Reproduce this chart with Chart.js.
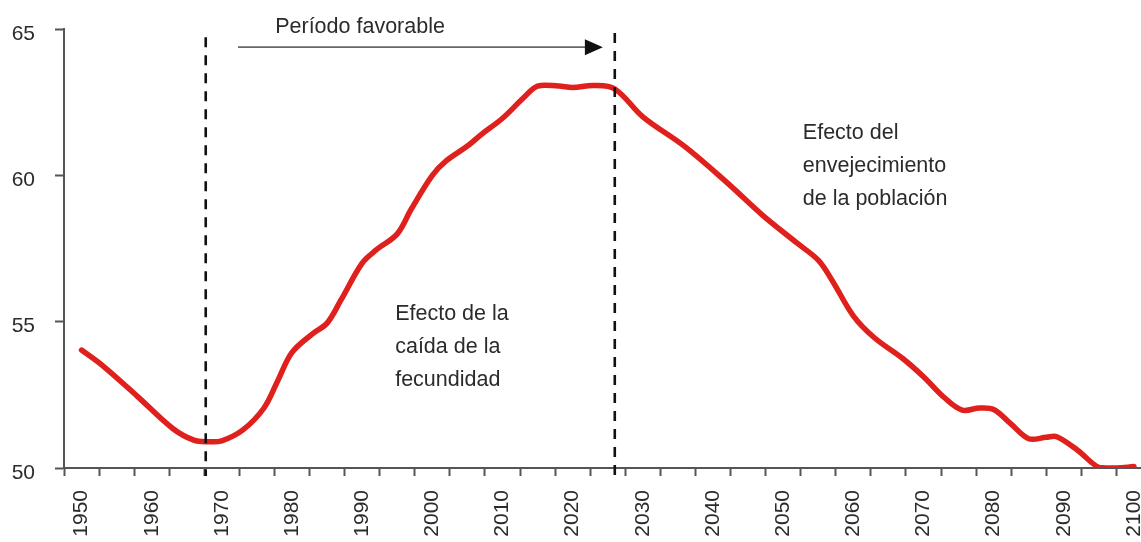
<!DOCTYPE html>
<html><head><meta charset="utf-8">
<script src="https://cdn.jsdelivr.net/npm/chart.js@4.4.0/dist/chart.umd.min.js"></script>
<style>html,body{margin:0;padding:0;background:#fff;overflow:hidden}#wrap{width:1141px;height:542px;position:relative}</style>
</head><body><div id="wrap"><canvas id="c" width="1141" height="542"></canvas></div>
<script>
// Data
const years  = [1950,1953,1958,1963,1966,1968,1970,1973,1976,1978,1980,1983,1985,1987,1990,1992,1995,1997,2000,2002,2005,2007,2010,2013,2015,2018,2020,2023,2026,2030,2036,2042,2047,2052,2055,2057,2060,2063,2067,2070,2073,2075.5,2078,2080,2082.5,2085,2087.5,2089,2092,2095,2097.5,2100];
const values = [54.03,53.5,52.44,51.35,50.95,50.9,50.93,51.3,52.05,53.0,53.95,54.6,54.95,55.75,57.0,57.45,58.0,58.85,60.0,60.5,61.0,61.4,61.95,62.65,63.05,63.05,63.0,63.07,62.95,62.0,60.98,59.75,58.65,57.68,57.1,56.4,55.2,54.45,53.75,53.12,52.4,51.98,52.05,52.0,51.5,51.0,51.05,51.07,50.6,50.02,50.0,50.05];
const yTicks = [50,55,60,65];
const xLabelYears = [1950,1960,1970,1980,1990,2000,2010,2020,2030,2040,2050,2060,2070,2080,2090,2100];
const xTickYears = [1947.5,1952.5,1957.5,1962.5,1967.5,1972.5,1977.5,1982.5,1987.5,1992.5,1997.5,2002.5,2007.5,2012.5,2017.5,2022.5,2027.5,2032.5,2037.5,2042.5,2047.5,2052.5,2057.5,2062.5,2067.5,2072.5,2077.5,2082.5,2087.5,2092.5,2097.5];
const markerYears = [1967.7, 2026];
const markerTops = [64.72, 64.86];
const periodText = "Período favorable";
const periodTextPos = [1977.6, 64.86];
const arrowFrom = [1972.3, 64.38];
const arrowTo = [2024.3, 64.38];
const leftNote = ["Efecto de la", "caída de la", "fecundidad"];
const leftNotePos = [1994.7, 55.06];
const rightNote = ["Efecto del", "envejecimiento", "de la población"];
const rightNotePos = [2052.8, 61.24];

const FONT = "'Liberation Sans', Arial, sans-serif";
const TXT = '#2b2b2b';
const AX = '#555555';

const allXTicks = [...xTickYears, ...xLabelYears].sort((a,b)=>a-b);

const overlay = {
  id: 'overlay',
  afterDatasetsDraw(chart) {
    const {ctx, scales:{x, y}} = chart;
    ctx.save();
    // dashed vertical markers
    ctx.strokeStyle = '#111';
    ctx.lineWidth = 2.6;
    ctx.setLineDash([10, 8]);
    markerYears.forEach((yr, i) => {
      const px = x.getPixelForValue(yr);
      ctx.beginPath();
      ctx.moveTo(px, y.getPixelForValue(markerTops[i]));
      ctx.lineTo(px, y.bottom + 8);
      ctx.stroke();
    });
    ctx.setLineDash([]);
    // arrow
    const ax1 = x.getPixelForValue(arrowFrom[0]), ay = y.getPixelForValue(arrowFrom[1]);
    const ax2 = x.getPixelForValue(arrowTo[0]);
    ctx.strokeStyle = '#666';
    ctx.lineWidth = 1.6;
    ctx.beginPath();
    ctx.moveTo(ax1, ay);
    ctx.lineTo(ax2 - 14, ay);
    ctx.stroke();
    ctx.fillStyle = '#111';
    ctx.beginPath();
    ctx.moveTo(ax2, ay);
    ctx.lineTo(ax2 - 18, ay - 8);
    ctx.lineTo(ax2 - 18, ay + 8);
    ctx.closePath();
    ctx.fill();
    // texts
    ctx.fillStyle = TXT;
    ctx.font = `21.5px ${FONT}`;
    ctx.textAlign = 'left';
    ctx.textBaseline = 'alphabetic';
    ctx.fillText(periodText, x.getPixelForValue(periodTextPos[0]), y.getPixelForValue(periodTextPos[1]));
    const drawNote = (lines, pos) => {
      const px = x.getPixelForValue(pos[0]);
      const py = y.getPixelForValue(pos[1]);
      lines.forEach((t, i) => ctx.fillText(t, px, py + i * 33));
    };
    drawNote(leftNote, leftNotePos);
    drawNote(rightNote, rightNotePos);
    ctx.restore();
  }
};

new Chart(document.getElementById('c'), {
  type: 'line',
  data: {
    datasets: [{
      data: years.map((yr, i) => ({x: yr, y: values[i]})),
      borderColor: '#e0201c',
      borderWidth: 5.5,
      pointRadius: 0,
      tension: 0.35,
      fill: false,
      borderCapStyle: 'round',
      borderJoinStyle: 'round'
    }]
  },
  options: {
    responsive: false,
    animation: false,
    layout: {padding: {top: 29, left: 0, right: 0, bottom: 0}},
    plugins: {legend: {display: false}, tooltip: {enabled: false}},
    scales: {
      x: {
        type: 'linear',
        min: 1947.5,
        max: 2101,
        afterBuildTicks: s => { s.ticks = allXTicks.map(v => ({value: v})); },
        ticks: {
          autoSkip: false,
          minRotation: 90,
          maxRotation: 90,
          padding: 14,
          color: TXT,
          font: {family: FONT, size: 21},
          callback: v => xLabelYears.includes(v) ? String(v) : ''
        },
        grid: {
          display: true,
          drawOnChartArea: false,
          tickLength: 8,
          tickWidth: 2,
          tickColor: c => (c.tick && xTickYears.includes(c.tick.value)) ? AX : 'rgba(0,0,0,0)'
        },
        border: {display: true, color: AX, width: 2},
        afterFit: s => { s.height = 74; s.paddingLeft = 0; s.paddingRight = 0; }
      },
      y: {
        min: 50,
        max: 65,
        afterBuildTicks: s => { s.ticks = yTicks.map(v => ({value: v})); },
        ticks: {
          padding: 20,
          labelOffset: 5,
          color: TXT,
          font: {family: FONT, size: 21}
        },
        grid: {
          display: true,
          drawOnChartArea: false,
          tickLength: 9,
          tickWidth: 2,
          tickColor: AX
        },
        border: {display: true, color: AX, width: 2},
        afterFit: s => { s.width = 64; s.paddingTop = 0; s.paddingBottom = 0; }
      }
    }
  },
  plugins: [overlay]
});
</script>
</body></html>
